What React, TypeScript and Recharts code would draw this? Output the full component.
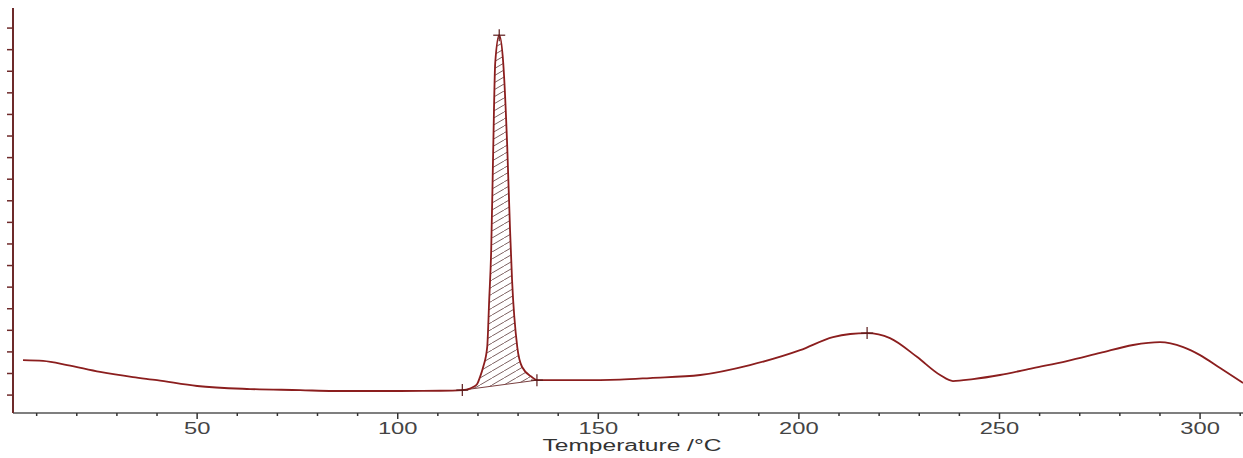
import React from "react";
import { ComposedChart, Line, Area, Scatter, XAxis, YAxis } from "recharts";

// DSC trace, temperature in °C vs heat flow (arbitrary units)
const curveT = [
  6.6, 11.6, 17.6, 25.8, 34.0, 40.0, 50.0, 63.2, 75.7, 84.0, 100.6, 110.6, 116.1,
  118.0, 118.8, 119.8, 120.5, 121.3, 122.3, 122.8, 123.3, 123.8, 124.3, 125.3,
  126.3, 127.3, 128.0, 128.5, 129.8, 131.0, 133.5, 134.7, 145.5, 155.4, 162.9,
  175.4, 187.8, 200.3, 208.5, 212.8, 217.0, 222.7, 229.5, 235.2, 238.4, 243.4,
  250.1, 258.4, 266.8, 275.1, 283.3, 290.0, 295.8, 300.0, 305.0, 310.7,
];
const curveV = [
  2.62, 2.58, 2.39, 2.07, 1.83, 1.69, 1.42, 1.28, 1.23, 1.19, 1.19, 1.2, 1.23,
  1.3, 1.37, 1.51, 1.83, 2.3, 3.22, 5.4, 7.72, 12.35, 16.38, 17.67,
  16.38, 12.49, 8.64, 6.33, 3.22, 2.3, 1.83, 1.69, 1.69, 1.72, 1.79,
  1.93, 2.39, 3.08, 3.69, 3.83, 3.87, 3.64, 2.76, 1.93, 1.65, 1.74,
  1.93, 2.25, 2.57, 2.95, 3.32, 3.45, 3.22, 2.85, 2.25, 1.56,
];

// integration baseline under the melting peak
const baseT = [116.1, 118.0, 118.8, 119.8, 120.5, 121.3, 122.3, 122.8, 123.3, 123.8, 124.3, 125.3, 126.3, 127.3, 128.0, 128.5, 129.8, 131.0, 133.5, 134.7];
const baseV = [1.23, 1.3, 1.31, 1.32, 1.34, 1.36, 1.38, 1.4, 1.41, 1.42, 1.43, 1.46, 1.48, 1.51, 1.52, 1.54, 1.57, 1.6, 1.66, 1.69];

// evaluation markers (+)
const markT = [116.1, 125.3, 134.7, 217.0];
const markV = [1.23, 17.67, 1.69, 3.87];

const xTicks = [10, 20, 30, 40, 50, 60, 70, 80, 90, 100, 110, 120, 130, 140, 150, 160, 170, 180, 190, 200, 210, 220, 230, 240, 250, 260, 270, 280, 290, 300, 310];
const yTicks = [1, 2, 3, 4, 5, 6, 7, 8, 9, 10, 11, 12, 13, 14, 15, 16, 17, 18];

const curve = curveT.map((t, i) => ({ t, v: curveV[i] }));
const peak = baseT.map((t, i) => ({ t, band: [baseV[i], curveV[curveT.indexOf(t)]] }));
const baseline = [
  { t: baseT[0], v: baseV[0] },
  { t: baseT[baseT.length - 1], v: baseV[baseV.length - 1] },
];
const marks = markT.map((t, i) => ({ t, v: markV[i] }));

const LINE = "#8B1E1E";

const XTick = (props: any) => {
  const { x, y, payload } = props;
  const major = payload.value % 50 === 0;
  const label = String(payload.value);
  return (
    <g>
      <line x1={x} x2={x} y1={y} y2={y + (major ? 6 : 3)} stroke="#333" strokeWidth={1.5} />
      {major && (
        <text
          x={x}
          y={y + 21}
          textAnchor="middle"
          fontSize={17}
          fontFamily="Liberation Sans, Arial, sans-serif"
          fill="#444"
          textLength={label.length * 13.2}
          lengthAdjust="spacingAndGlyphs"
        >
          {label}
        </text>
      )}
    </g>
  );
};

const XLabel = (props: any) => {
  const { viewBox } = props;
  const cx = viewBox.x + viewBox.width / 2 + 4;
  return (
    <text
      x={cx}
      y={viewBox.y + 38}
      textAnchor="middle"
      fontSize={16}
      fontFamily="Liberation Sans, Arial, sans-serif"
      fill="#333"
      textLength={179}
      lengthAdjust="spacingAndGlyphs"
    >
      Temperature /°C
    </text>
  );
};

const Cross = (props: any) => {
  const { cx, cy } = props;
  return (
    <g stroke="#5a1a1a" strokeWidth={1.2}>
      <line x1={cx - 6} x2={cx + 6} y1={cy} y2={cy} />
      <line x1={cx} x2={cx} y1={cy - 6} y2={cy + 6} />
    </g>
  );
};

export default function App() {
  return (
    <div style={{ position: "absolute", left: 0, top: 0, background: "#fff" }}>
      <ComposedChart width={1243} height={458} margin={{ top: 8, right: 0, left: 0, bottom: 0 }}>
        <defs>
          <pattern id="hatch" patternUnits="userSpaceOnUse" width={12} height={7}>
            <line x1={0} y1={7} x2={12} y2={0} stroke="#6e5050" strokeWidth={0.9} />
          </pattern>
        </defs>
        <XAxis
          type="number"
          dataKey="t"
          domain={[4.1, 310.7]}
          ticks={xTicks}
          allowDataOverflow
          height={45}
          tickSize={0}
          tickMargin={0}
          tickLine={false}
          axisLine={{ stroke: "#555", strokeWidth: 1.5 }}
          tick={<XTick />}
          interval={0}
          label={{ value: "Temperature /°C", content: <XLabel /> }}
        />
        <YAxis
          type="number"
          dataKey="v"
          domain={[0.17, 18.93]}
          ticks={yTicks}
          allowDataOverflow
          width={13}
          tickSize={6}
          tickFormatter={() => ""}
          axisLine={{ stroke: "#6e2a2a", strokeWidth: 2 }}
          tickLine={{ stroke: "#6e2a2a", strokeWidth: 1.5 }}
        />
        <Area
          data={peak}
          dataKey="band"
          type="monotone"
          stroke="none"
          fill="url(#hatch)"
          fillOpacity={1}
          isAnimationActive={false}
        />
        <Line
          data={baseline}
          dataKey="v"
          type="linear"
          stroke="#7a4040"
          strokeWidth={1}
          dot={false}
          isAnimationActive={false}
        />
        <Line
          data={curve}
          dataKey="v"
          type="monotone"
          stroke={LINE}
          strokeWidth={1.8}
          dot={false}
          isAnimationActive={false}
        />
        <Scatter data={marks} dataKey="v" shape={<Cross />} isAnimationActive={false} />
      </ComposedChart>
    </div>
  );
}
